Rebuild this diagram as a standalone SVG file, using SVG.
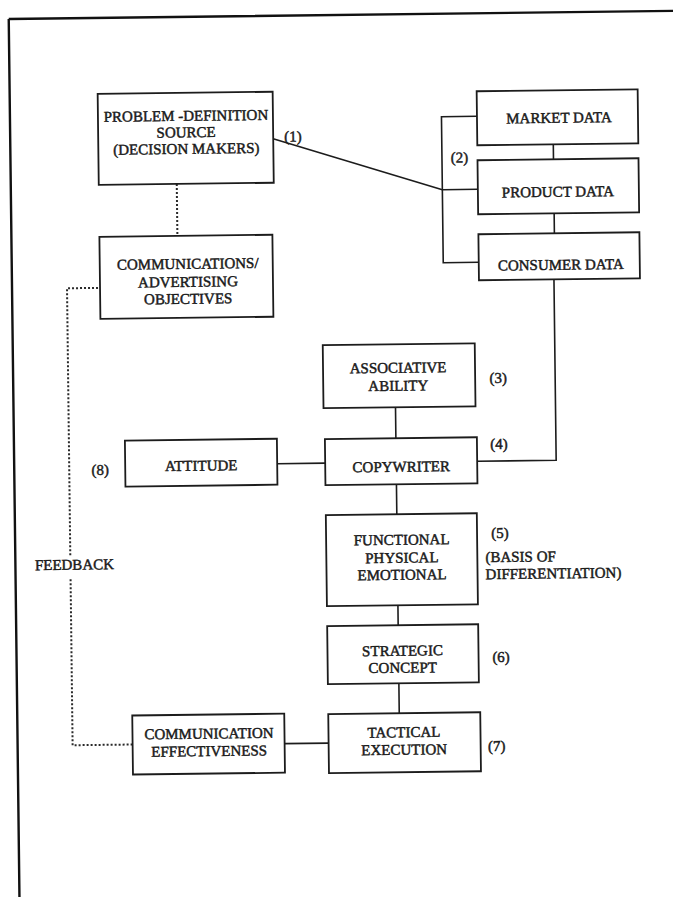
<svg xmlns="http://www.w3.org/2000/svg" width="673" height="897" viewBox="0 0 673 897">
<style>
  .box { fill: none; stroke: #1c1c1c; stroke-width: 1.8; }
  .ln { fill: none; stroke: #1c1c1c; stroke-width: 1.6; }
  .dot { fill: none; stroke: #2a2a2a; stroke-width: 2; stroke-dasharray: 2 2; }
  .frame { fill: none; stroke: #111; stroke-width: 2.4; }
  text { font-family: "Liberation Serif", "Times New Roman", serif; font-weight: normal; font-size: 15px; fill: #1a1a1a; stroke: #1a1a1a; stroke-width: 0.45; }
  .c { text-anchor: middle; }
</style>
<rect width="673" height="897" fill="#ffffff"/>
<g transform="rotate(-0.7 336 448)">
  <path class="frame" d="M14,15 H700 M14,15 V930"/>
  <g id="connectors">
    <path class="ln" d="M277,138 L445.5,191"/>
    <path class="ln" d="M481,118 H445.5 V264 H481 M445.5,191 H481"/>
    <path class="ln" d="M557,147 V162 M557,216 V236"/>
    <path class="ln" d="M556,282 V463 H477"/>
    <path class="ln" d="M396,408 V439 M396,485 V515 M396,606 V626 M396,684 V714"/>
    <path class="ln" d="M277,463 H325"/>
    <path class="ln" d="M281,743 H325"/>
    <path class="dot" d="M180,182 V234"/>
    <path class="dot" d="M129,742 H69 V575 M69,552 V285 H102"/>
  </g>
  <g id="problem">
    <rect class="box" x="102" y="91" width="175" height="91"/>
    <text class="c" x="190" y="119">PROBLEM -DEFINITION</text>
    <text class="c" x="190" y="135.5">SOURCE</text>
    <text class="c" x="190" y="152">(DECISION MAKERS)</text>
  </g>
  <g id="objectives">
    <rect class="box" x="102" y="234" width="173" height="82"/>
    <text class="c" x="190" y="267">COMMUNICATIONS/</text>
    <text class="c" x="190" y="285">ADVERTISING</text>
    <text class="c" x="190" y="302">OBJECTIVES</text>
  </g>
  <g id="market">
    <rect class="box" x="481" y="93" width="161" height="54"/>
    <text class="c" x="563" y="125.5">MARKET DATA</text>
  </g>
  <g id="product">
    <rect class="box" x="481" y="162" width="161" height="54"/>
    <text class="c" x="561" y="199.5">PRODUCT DATA</text>
  </g>
  <g id="consumer">
    <rect class="box" x="481" y="236" width="161" height="46"/>
    <text class="c" x="563" y="272.5">CONSUMER DATA</text>
  </g>
  <g id="associative">
    <rect class="box" x="324" y="345" width="152" height="63"/>
    <text class="c" x="399" y="373.5">ASSOCIATIVE</text>
    <text class="c" x="399" y="391.5">ABILITY</text>
  </g>
  <g id="copywriter">
    <rect class="box" x="325" y="439" width="152" height="46"/>
    <text class="c" x="401" y="472.5">COPYWRITER</text>
  </g>
  <g id="attitude">
    <rect class="box" x="125" y="438" width="152" height="46"/>
    <text class="c" x="201" y="469">ATTITUDE</text>
  </g>
  <g id="functional">
    <rect class="box" x="325" y="515" width="151" height="91"/>
    <text class="c" x="400.5" y="545.5">FUNCTIONAL</text>
    <text class="c" x="400.5" y="563.5">PHYSICAL</text>
    <text class="c" x="400.5" y="580.5">EMOTIONAL</text>
  </g>
  <g id="strategic">
    <rect class="box" x="325" y="626" width="151" height="58"/>
    <text class="c" x="400" y="656.5">STRATEGIC</text>
    <text class="c" x="400" y="673.5">CONCEPT</text>
  </g>
  <g id="tactical">
    <rect class="box" x="325" y="714" width="152" height="59"/>
    <text class="c" x="400.5" y="738">TACTICAL</text>
    <text class="c" x="400.5" y="755.5">EXECUTION</text>
  </g>
  <g id="effectiveness">
    <rect class="box" x="129" y="713" width="152" height="59"/>
    <text class="c" x="205.5" y="737">COMMUNICATION</text>
    <text class="c" x="205.5" y="754.5">EFFECTIVENESS</text>
  </g>
  <g id="labels">
    <text x="288" y="141">(1)</text>
    <text class="c" x="463" y="164">(2)</text>
    <text class="c" x="499" y="385">(3)</text>
    <text class="c" x="499" y="451">(4)</text>
    <text class="c" x="499" y="540">(5)</text>
    <text x="484" y="564">(BASIS OF</text>
    <text x="484" y="581">DIFFERENTIATION)</text>
    <text class="c" x="498.5" y="664">(6)</text>
    <text class="c" x="493" y="753">(7)</text>
    <text class="c" x="100" y="472">(8)</text>
    <text class="c" x="73" y="566.5">FEEDBACK</text>
  </g>
</g>
</svg>
